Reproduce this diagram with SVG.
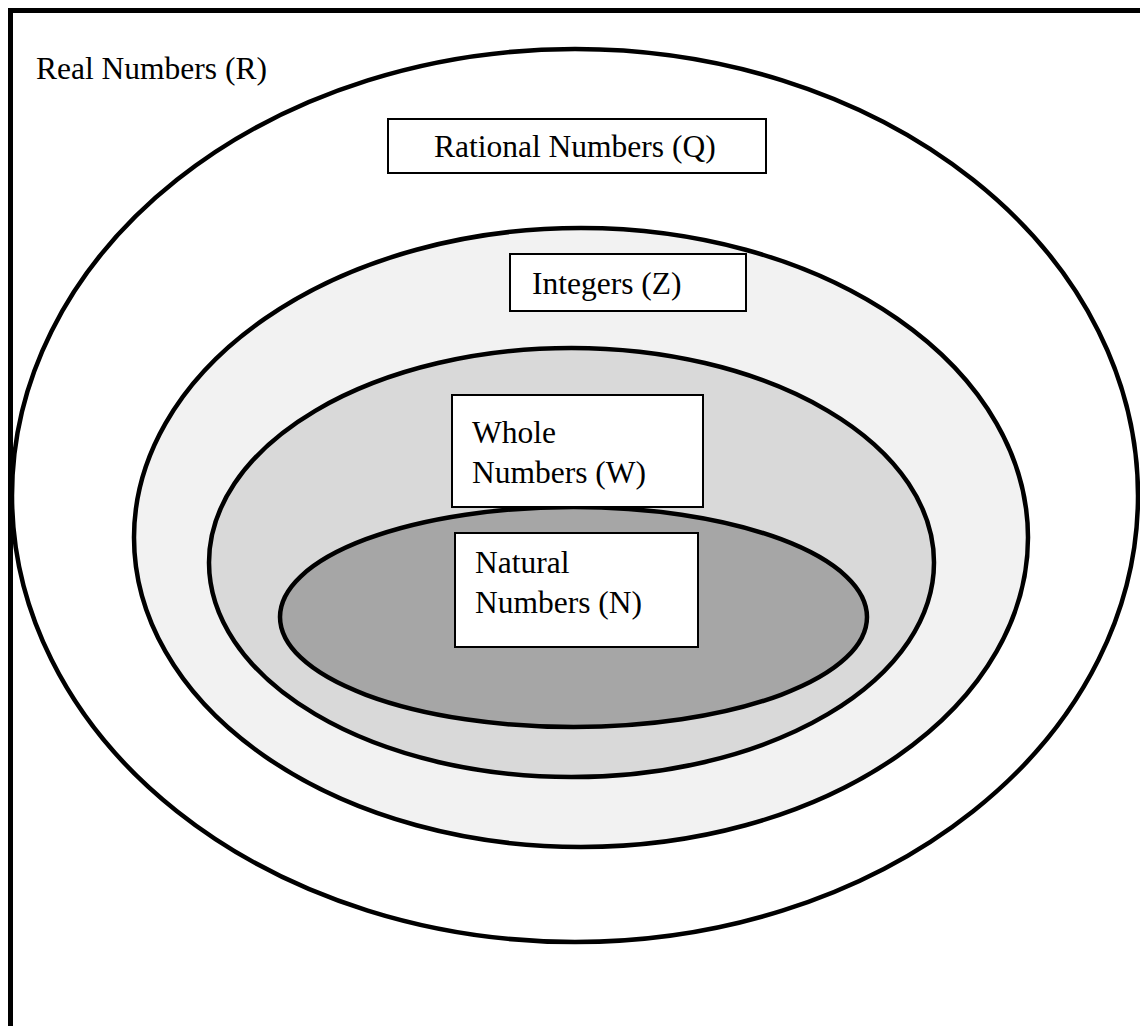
<svg xmlns="http://www.w3.org/2000/svg" width="1140" height="1026" viewBox="0 0 1140 1026">
<style>
.set{stroke:#000;stroke-width:4.5}
.box{fill:#fff;stroke:#000;stroke-width:2}
.lbl{font-family:"Liberation Serif","Times New Roman",serif;font-size:31.5px;fill:#000}
</style>
<rect x="0" y="0" width="1140" height="1026" fill="#fff"/>
<g id="real">
<rect x="10.5" y="10.5" width="1200" height="1100" fill="#fff" stroke="#000" stroke-width="5"/>
<ellipse class="set" cx="575" cy="495.5" rx="563" ry="446.5" fill="#fff"/>
<text class="lbl" x="36" y="79">Real Numbers (R)</text>
</g>
<g id="integers-set">
<ellipse class="set" cx="581" cy="537.5" rx="447" ry="309.5" fill="#f2f2f2"/>
</g>
<g id="whole-set">
<ellipse class="set" cx="571.5" cy="562.5" rx="362.5" ry="214.5" fill="#d9d9d9"/>
</g>
<g id="natural-set">
<ellipse class="set" cx="573.5" cy="617" rx="293.5" ry="110" fill="#a6a6a6"/>
</g>
<g id="rational">
<rect class="box" x="388" y="119" width="378" height="54"/>
<text class="lbl" x="434" y="157">Rational Numbers (Q)</text>
</g>
<g id="integers">
<rect class="box" x="510" y="254" width="236" height="57"/>
<text class="lbl" x="532" y="294">Integers (Z)</text>
</g>
<g id="whole">
<rect class="box" x="452" y="395" width="251" height="112"/>
<text class="lbl" x="472" y="443">Whole</text>
<text class="lbl" x="472" y="483">Numbers (W)</text>
</g>
<g id="natural">
<rect class="box" x="455" y="533" width="243" height="114"/>
<text class="lbl" x="475" y="573">Natural</text>
<text class="lbl" x="475" y="613">Numbers (N)</text>
</g>
<g id="connectors"></g>
</svg>
